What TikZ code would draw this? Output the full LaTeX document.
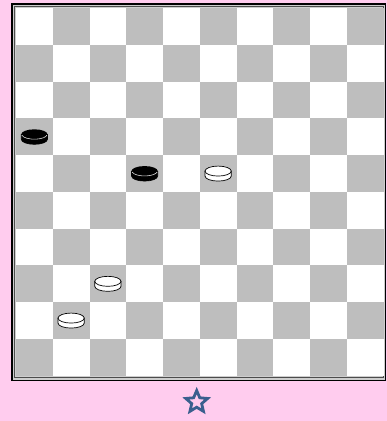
\documentclass[tikz,border=0pt]{standalone}
\usetikzlibrary{shapes.geometric}
\definecolor{bgpink}{RGB}{255,204,238}
\definecolor{sqgray}{RGB}{190,190,190}
\definecolor{frgray}{RGB}{205,205,205}
\definecolor{starblue}{RGB}{58,95,142}
\newcommand\drawpiece[3]{%
  \pgfmathsetmacro\px{16+36.75*(#1+0.5)}%
  \pgfmathsetmacro\py{8+36.75*(#2+0.5)-2.3}%
  \ifnum#3=1
    \filldraw[fill=black,draw=black,line width=0.6pt] (\px-13.1,\py) -- (\px-13.1,\py+5) arc[start angle=180,end angle=360,x radius=13.1pt,y radius=5pt] -- (\px+13.1,\py) -- cycle;
    \fill[black] (\px,\py) ellipse[x radius=13.1pt,y radius=5pt];
    \draw[white!85!black,line width=0.6pt] (\px-12.5,\py+0.9) arc[start angle=190,end angle=350,x radius=12.7pt,y radius=4.8pt];
  \else
    \filldraw[fill=white,draw=black,line width=0.7pt] (\px-13.1,\py) -- (\px-13.1,\py+5) arc[start angle=180,end angle=360,x radius=13.1pt,y radius=5pt] -- (\px+13.1,\py) -- cycle;
    \filldraw[fill=white,draw=black,line width=0.7pt] (\px,\py) ellipse[x radius=13.1pt,y radius=5pt];
  \fi
}
\begin{document}
\begin{tikzpicture}[x=1pt,y=-1pt]
\fill[bgpink] (0,0) rectangle (387,421);
\useasboundingbox (0,0) rectangle (387,421);
% frame
\fill[black] (11,3) rectangle (386,381);
\fill[frgray] (12.5,4.5) rectangle (384.5,379.5);
\draw[black!70,line width=0.8pt] (14.8,6.8) rectangle (383.8,377.2);
% board
\fill[white] (16,8) rectangle (383.5,375.5);
\foreach \r in {0,...,9}{\foreach \c in {0,...,9}{%
  \ifodd\numexpr\r+\c\relax
    \fill[sqgray] ({16+\c*36.75},{8+\r*36.75}) rectangle ++(36.75,36.75);
  \fi}}
% pieces
\drawpiece{0}{3}{1}
\drawpiece{3}{4}{1}
\drawpiece{5}{4}{0}
\drawpiece{2}{7}{0}
\drawpiece{1}{8}{0}
% star
\node[star,star points=5,star point ratio=2.2,draw=starblue,line width=2.8pt,minimum size=23pt,inner sep=0pt] (st) at (196.7,402) {};
\end{tikzpicture}
\end{document}
